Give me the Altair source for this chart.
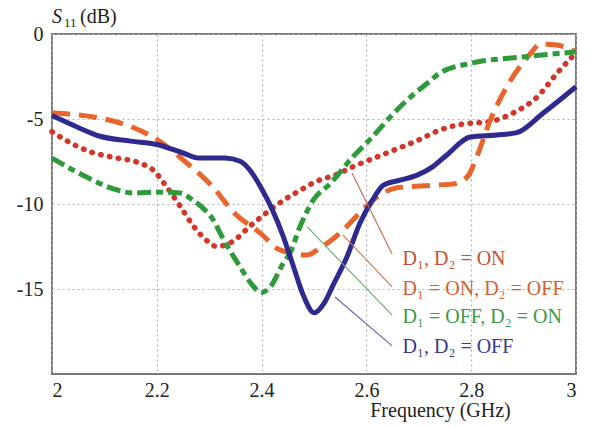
import altair as alt
import pandas as pd

# ---------------- data ----------------
freq_off = [2.00, 2.05, 2.09, 2.15, 2.20, 2.25, 2.28, 2.33, 2.36, 2.38, 2.40, 2.42, 2.44, 2.46,
            2.48, 2.50, 2.52, 2.536, 2.563, 2.588, 2.611, 2.632, 2.664, 2.697, 2.727, 2.754,
            2.798, 2.849, 2.887, 2.937, 3.00]
s11_off = [-4.8, -5.5, -6.0, -6.3, -6.5, -7.0, -7.3, -7.3, -7.5, -8.1, -9.1, -10.3, -11.8, -13.6,
           -15.4, -16.4, -15.8, -14.8, -13.1, -11.1, -9.8, -8.9, -8.6, -8.3, -7.8, -7.1,
           -6.06, -5.94, -5.8, -4.66, -3.1]

freq_on = [2.00, 2.035, 2.075, 2.116, 2.168, 2.193, 2.219, 2.244, 2.27, 2.29, 2.315, 2.345,
           2.378, 2.41, 2.441, 2.473, 2.506, 2.54, 2.575, 2.639, 2.702, 2.74, 2.784, 2.836,
           2.88, 2.926, 2.964, 3.00]
s11_on = [-5.75, -6.4, -6.95, -7.25, -7.6, -8.0, -9.0, -10.1, -11.3, -12.0, -12.5, -12.2,
          -11.3, -10.5, -9.8, -9.2, -8.65, -8.3, -7.8, -7.0, -6.2, -5.65, -5.3, -5.15,
          -4.65, -3.7, -2.3, -1.1]

freq_on_off = [2.00, 2.092, 2.155, 2.20, 2.25, 2.307, 2.347, 2.397, 2.435, 2.487, 2.511, 2.55,
               2.588, 2.62, 2.658, 2.727, 2.77, 2.795, 2.811, 2.836, 2.868, 2.908, 2.933,
               2.963, 3.00]
s11_on_off = [-4.65, -4.95, -5.5, -6.2, -7.4, -9.0, -10.5, -11.7, -12.7, -13.0, -12.6, -11.7,
              -10.5, -9.6, -9.05, -8.9, -8.8, -8.3, -7.2, -5.1, -3.1, -1.35, -0.6,
              -0.65, -1.05]

freq_off_on = [2.00, 2.04, 2.078, 2.116, 2.155, 2.20, 2.244, 2.27, 2.29, 2.307, 2.324, 2.359,
               2.378, 2.40, 2.416, 2.441, 2.454, 2.473, 2.498, 2.531, 2.575, 2.607, 2.645,
               2.677, 2.716, 2.74, 2.803, 2.899, 3.00]
s11_off_on = [-7.3, -8.0, -8.6, -9.1, -9.35, -9.3, -9.35, -9.8, -10.3, -10.9, -11.9, -13.7,
              -14.6, -15.2, -14.9, -13.5, -12.9, -11.35, -9.8, -8.8, -7.2, -6.2, -4.9,
              -3.9, -2.9, -2.3, -1.7, -1.35, -1.05]

labels = ["D\u2081, D\u2082 = ON", "D\u2081 = ON, D\u2082 = OFF",
          "D\u2081 = OFF, D\u2082 = ON", "D\u2081, D\u2082 = OFF"]
colors = ["#d2362a", "#e8652c", "#2f9a3c", "#2e2a8e"]
text_colors = ["#c8522e", "#d2602e", "#3e9a44", "#3c3a8c"]
leader_colors = ["#c0684a", "#d0784a", "#6aaa6a", "#6a62aa"]

# leader lines (curve point -> label) and label anchors
lead_f0 = [2.5725, 2.555, 2.487, 2.540]
lead_s0 = [-8.18, -11.82, -11.35, -15.47]
lead_f1 = [2.649, 2.649, 2.649, 2.649]
lead_s1 = [-12.94, -14.88, -16.53, -18.35]
lab_f = [2.669, 2.669, 2.669, 2.669]
lab_s = [-13.59, -15.35, -17.0, -18.76]

x_ticks = [2, 2.2, 2.4, 2.6, 2.8, 3]
y_ticks = [0, -5, -10, -15]

FONT = "Liberation Serif"

# ---------------- chart ----------------
xs = alt.Scale(domain=[2, 3], nice=False, zero=False)
ys = alt.Scale(domain=[-20, 0], nice=False, zero=False)

x_axis = alt.Axis(values=x_ticks, labelExpr="datum.value + ''", grid=True, gridDash=[2, 3],
                  gridColor="#b4b4b4", gridWidth=1.2, ticks=False, domain=False,
                  labelFont=FONT, labelFontSize=20, labelColor="#222", labelPadding=6,
                  title="Frequency (GHz)", titleFont=FONT, titleFontSize=20,
                  titleFontWeight="normal", titleColor="#222", titleX=388, titleY=42,
                  titleBaseline="alphabetic", titleAlign="center")
y_axis = alt.Axis(values=y_ticks, labelExpr="datum.value + ''", grid=True, gridDash=[2, 3],
                  gridColor="#b4b4b4", gridWidth=1.2, ticks=False, domain=False,
                  labelFont=FONT, labelFontSize=20, labelColor="#222", labelPadding=9,
                  title=None)


def X(field):
    return alt.X(field, type="quantitative", scale=xs, axis=x_axis)


def Y(field):
    return alt.Y(field, type="quantitative", scale=ys, axis=y_axis)


series = [
    (freq_on, s11_on, dict(strokeDash=[0.5, 8.5], strokeCap="round", strokeWidth=5.5)),
    (freq_on_off, s11_on_off, dict(strokeDash=[18, 9], strokeWidth=5)),
    (freq_off_on, s11_off_on, dict(strokeDash=[14, 5, 7, 5], strokeWidth=5)),
    (freq_off, s11_off, dict(strokeWidth=5)),
]

layers = []
for i, (fx, sy, style) in enumerate(series):
    df = pd.DataFrame({"f": fx, "s": sy})
    layers.append(
        alt.Chart(df).mark_line(color=colors[i], interpolate="monotone", **style)
        .encode(x=X("f"), y=Y("s"))
    )

leaders = pd.DataFrame({"f0": lead_f0, "s0": lead_s0, "f1": lead_f1, "s1": lead_s1,
                        "c": leader_colors})
layers.append(
    alt.Chart(leaders).mark_rule(strokeWidth=1.1)
    .encode(x=X("f0"), y=Y("s0"), x2="f1:Q", y2="s1:Q", color=alt.Color("c:N", scale=None))
)

lab_df = pd.DataFrame({"f": lab_f, "s": lab_s, "t": labels, "c": text_colors})
layers.append(
    alt.Chart(lab_df).mark_text(align="left", baseline="alphabetic", font=FONT, fontSize=20)
    .encode(x=X("f"), y=Y("s"), text="t:N", color=alt.Color("c:N", scale=None))
)

# y-axis title "S11 (dB)" placed above the top-left corner
ttl_f = [2.0, 2.0229, 2.0534]
ttl_s = [0.65, 0.41, 0.65]
ttl_t = ["S", "11", "(dB)"]
ttl_style = ["italic", "normal", "normal"]
ttl_size = [20, 13, 20]
for j in range(3):
    d = pd.DataFrame({"f": [ttl_f[j]], "s": [ttl_s[j]], "t": [ttl_t[j]]})
    layers.append(
        alt.Chart(d).mark_text(align="left", baseline="alphabetic", font=FONT,
                               fontSize=ttl_size[j], fontStyle=ttl_style[j], color="#222")
        .encode(x=X("f"), y=Y("s"), text="t:N")
    )

chart = alt.layer(*layers).properties(
    width=524, height=340,
    autosize=alt.AutoSizeParams(type="none"),
    padding={"left": 52, "top": 34, "right": 15, "bottom": 54},
).configure_view(stroke="#7a7a7a", strokeWidth=2)

chart.save("out.html", embed_options={"renderer": "svg", "actions": False})
